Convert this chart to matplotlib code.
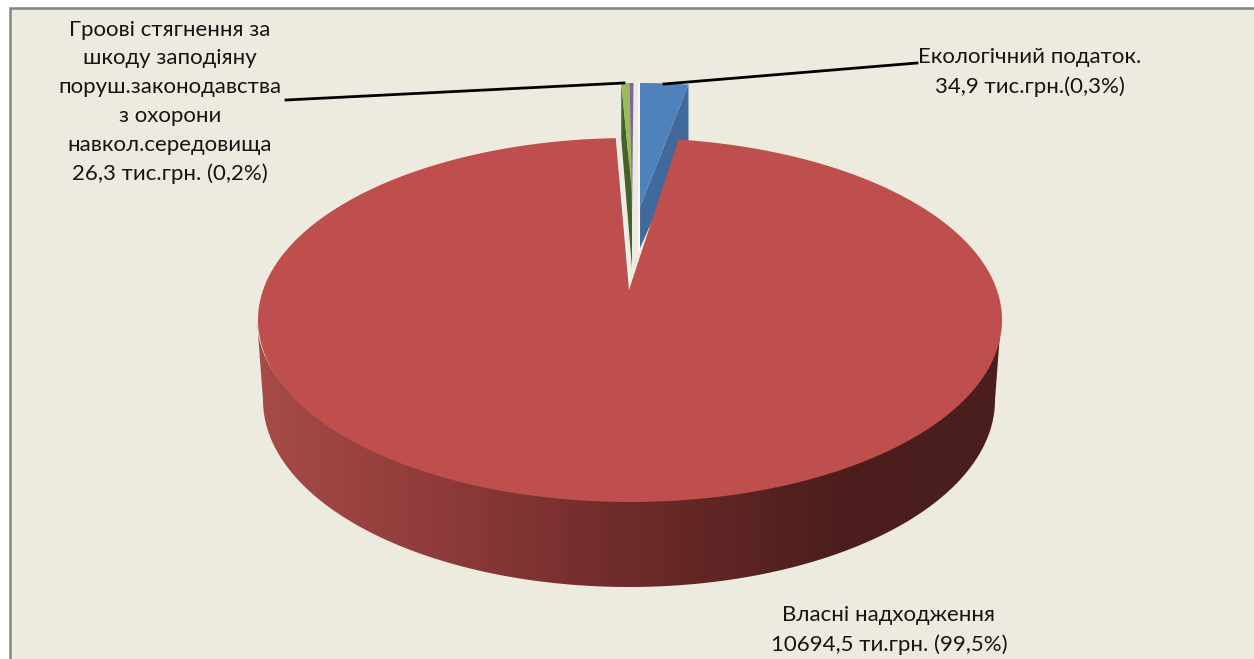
import numpy as np
import matplotlib
matplotlib.use("Agg")
import matplotlib.pyplot as plt
from matplotlib.colors import LinearSegmentedColormap
from matplotlib.patches import Polygon

plt.rcParams['font.family'] = ['Lato', 'DejaVu Sans']

# slice sizes as they are actually drawn (percent of the circle)
slice_names = ["Екологічний податок", "Власні надходження", "Грошові стягнення", "Інше"]
slice_shares = [2.08, 97.31, 0.36, 0.25]

label_eco = "Екологічний податок.\n34,9 тис.грн.(0,3%)"
label_own = "Власні надходження\n10694,5 ти.грн. (99,5%)"
label_fines = ("Гроові стягнення за\nшкоду заподіяну\nпоруш.законодавства\n"
               "з охорони\nнавкол.середовища\n26,3 тис.грн. (0,2%)")

BG = "#EDEBE0"
TOP_COLORS = ["#4F81BD", "#BE4F4C", "#9BBB59", "#8064A2"]
WALL_COLORS = ["#3F6A9B", "#7B3230", "#46602A", "#55406F"]

CX, CY, RX, RY = 629, 320, 372, 182
LOW_CY, LOW_RX, LOW_RY = 400, 366, 187
# x shift, y shift of the rim and y of the centre point for each slice (explosion)
RIM_SHIFT = [(11, -55), (1, 0), (6.5, -55), (4.5, -55)]
APEX = [(640, 207), (629, 290), (632, 193), (632, 215)]
APEX_LOW = [(640, 248), (629, 290), (632, 268), (632, 240)]
WALL_DEPTH = 55


def rim(deg, shift=(0, 0)):
    t = np.radians(deg)
    return CX + shift[0] + RX * np.sin(t), CY + shift[1] - RY * np.cos(t)


fig = plt.figure(figsize=(12.54, 6.59), dpi=100, facecolor="white")
ax = fig.add_axes([0, 0, 1, 1])
ax.axis("off")

# chart area with grey frame
ax.add_patch(plt.Rectangle((9.5, 8), 1300, 700, fc=BG, ec="#858585", lw=1.8, zorder=0))

edges = np.concatenate([[0], np.cumsum(slice_shares)]) * 3.6

# side wall of the big slice, tucked a little under the top face so no seam shows
wall_t = np.radians(np.linspace(-90, 90, 300))
top_x = CX + RX * np.sin(wall_t)
top_y = CY + (RY - 6) * np.cos(wall_t)
low_x = CX + LOW_RX * np.sin(wall_t)
low_y = LOW_CY + LOW_RY * np.cos(wall_t)
wall_pts = np.column_stack([np.r_[top_x, low_x[::-1]], np.r_[top_y, low_y[::-1]]])
wall_poly = Polygon(wall_pts, closed=True, fc="none", ec="none", zorder=1)
ax.add_patch(wall_poly)
cmap = LinearSegmentedColormap.from_list(
    "wall", [(0, "#A64B48"), (0.25, "#8E3B39"), (0.5, "#6E2B29"), (0.78, "#4C1E1D"), (1, "#4A1E1D")])
grad = ax.imshow(np.linspace(0, 1, 512)[None, :], cmap=cmap, extent=(257, 1001, 600, 300),
                 aspect="auto", zorder=1.5)
grad.set_clip_path(wall_poly)

# exploded small slices, cut face first, then top face
for i in [3, 2, 0]:
    start, end = edges[i], edges[i + 1]
    shift = RIM_SHIFT[i]
    angles = np.linspace(start, end, 12)
    rim_x, rim_y = rim(angles, shift)
    # the visible cut face is on the right for the blue slice, on the left for the others
    if i == 0:
        ox, oy = rim_x[-1], rim_y[-1]
    else:
        ox, oy = rim_x[0], rim_y[0]
    ax.add_patch(Polygon([(ox, oy), APEX[i], APEX_LOW[i], (ox, oy + WALL_DEPTH)],
                         fc=WALL_COLORS[i], ec="none", zorder=2))
    pts = np.column_stack([np.r_[rim_x, APEX[i][0]], np.r_[rim_y, APEX[i][1]]])
    ax.add_patch(Polygon(pts, fc=TOP_COLORS[i], ec="none", zorder=3))

# pale halo beside the cut edges
ax.plot([638.5, 638.5], [84, 250], color="#F7F6F1", lw=1.5, zorder=2.5)
ax.plot([616, 630], [140, 288], color="#F7F6F1", lw=1.5, zorder=3.5)

# big slice top face
angles = np.linspace(edges[1], edges[2], 500)
rim_x, rim_y = rim(angles, RIM_SHIFT[1])
pts = np.column_stack([np.r_[rim_x, APEX[1][0]], np.r_[rim_y, APEX[1][1]]])
ax.add_patch(Polygon(pts, fc=TOP_COLORS[1], ec="none", zorder=4))

# labels and leader lines
ax.text(1030, 72, label_eco, ha="center", va="center", fontsize=16, linespacing=1.53,
        color="#151515", zorder=6)
ax.text(889, 630, label_own, ha="center", va="center", fontsize=16, linespacing=1.53,
        color="#151515", zorder=6, clip_on=False)
ax.text(170, 102, label_fines, ha="center", va="center", fontsize=16, linespacing=1.55,
        color="#151515", zorder=6)
ax.plot([664, 917], [84, 63], color="black", lw=2, zorder=5)
ax.plot([286, 624], [100, 83], color="black", lw=2, zorder=5)

ax.set_xlim(0, 1254)
ax.set_ylim(659, 0)

fig.savefig("out.png", dpi=100, facecolor="white")
